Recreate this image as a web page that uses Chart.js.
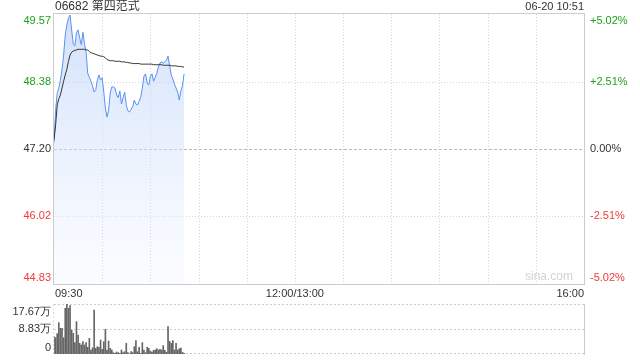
<!DOCTYPE html>
<html>
<head>
<meta charset="utf-8">
<script src="https://cdn.jsdelivr.net/npm/chart.js@4.4.1/dist/chart.umd.min.js"></script>
<style>
body{margin:0;background:#fff;width:640px;height:360px;position:relative;overflow:hidden}
#price{position:absolute;left:0;top:0}
#vol{position:absolute;left:0;top:296px}
</style>
</head>
<body>
<canvas id="price" width="640" height="300"></canvas>
<canvas id="vol" width="640" height="64"></canvas>
<script>
// 06682 intraday, one value per minute from 09:30 to 10:51
const prices=[47.31,47.88,48.18,48.27,48.41,48.59,48.85,49.20,49.38,49.50,49.55,49.29,49.04,49.01,49.25,49.29,49.15,49.03,49.25,49.04,
48.90,48.53,48.46,48.39,48.31,48.20,48.24,48.41,48.50,48.41,48.45,48.20,47.92,47.76,47.88,48.18,48.29,48.29,48.27,48.15,
48.10,48.22,47.99,48.10,48.20,47.97,47.87,47.85,47.90,47.94,48.06,47.99,47.97,48.04,48.11,48.27,48.48,48.52,48.36,48.32,
48.48,48.52,48.39,48.46,48.53,48.64,48.71,48.73,48.71,48.73,48.76,48.83,48.66,48.50,48.43,48.34,48.27,48.20,48.06,48.22,
48.32,48.52]
const avgPrices=[47.36,47.62,47.97,48.08,48.15,48.27,48.39,48.50,48.60,48.74,48.85,48.90,48.92,48.93,48.94,48.95,48.95,48.95,48.95,48.95,
48.94,48.94,48.91,48.89,48.88,48.87,48.86,48.85,48.84,48.83,48.83,48.82,48.80,48.77,48.76,48.75,48.75,48.75,48.74,48.74,
48.74,48.74,48.73,48.73,48.73,48.72,48.72,48.71,48.71,48.70,48.70,48.70,48.70,48.70,48.69,48.69,48.69,48.69,48.69,48.69,
48.69,48.69,48.68,48.68,48.68,48.68,48.68,48.68,48.67,48.67,48.67,48.67,48.67,48.66,48.66,48.66,48.66,48.65,48.65,48.65,
48.64,48.64]
// volume in 万 shares
const volumes=[6.13,5.77,7.2,11.07,9.07,9.07,5.77,16.14,17.67,16.14,17.08,8.48,7.30,4.01,11.43,6.71,3.77,3.18,4.36,3.18,
4.01,2.36,5.54,1.41,2.2,15.55,2.00,2.59,2.36,4.95,1.65,4.36,8.72,1.41,4.59,2.00,1.41,0.47,0.24,0.71,
0.47,0.24,1.41,0.47,0.82,3.77,0.47,0.05,0.82,0.47,2.59,4.71,0.82,2.36,0.24,4.01,1.41,0.47,2.36,2.00,
1.06,0.71,1.30,1.41,1.88,1.41,1.65,1.41,2.95,1.30,0.6,9.66,4.48,3.77,4.71,1.41,3.77,1.41,1.88,2.12,
0.59,0.24]

const prevClose=47.20
const priceTicks=[49.57,48.38,47.20,46.02,44.83]
const pctTicks=['+5.02%','+2.51%','0.00%','-2.51%','-5.02%']
const volTicks=[17.67,8.83,0]
const volTickLabels=['17.67万','8.83万','0']
const timeLabels=['09:30','12:00/13:00','16:00']
const timeTickMinutes=[0,150,330]
const sessionMinutes=330

const FONT='11px "Liberation Sans", Arial, sans-serif'
const GREEN='#1ea31e', RED='#f23a3a', GREY='#333'

function toPoints(arr){return arr.map((v,i)=>({x:i,y:v}))}

function hline(ctx,x1,x2,y,dash,color){
  ctx.save();ctx.beginPath();ctx.setLineDash(dash);ctx.strokeStyle=color;ctx.lineWidth=1
  ctx.moveTo(x1,Math.round(y)+0.5);ctx.lineTo(x2,Math.round(y)+0.5);ctx.stroke();ctx.restore()
}
function vline(ctx,x,y1,y2,dash,color){
  ctx.save();ctx.beginPath();ctx.setLineDash(dash);ctx.strokeStyle=color;ctx.lineWidth=1
  ctx.moveTo(Math.round(x)+0.5,y1);ctx.lineTo(Math.round(x)+0.5,y2);ctx.stroke();ctx.restore()
}
function labelColor(v){return v>prevClose+0.001?GREEN:(v<prevClose-0.001?RED:GREY)}

const priceFrame={
  id:'priceFrame',
  beforeDatasetsDraw(chart){
    const {ctx,chartArea:a,scales:{x,y}}=chart
    for(let t=30;t<sessionMinutes;t+=30){
      vline(ctx,x.getPixelForValue(t),a.top,a.bottom,[1,2],'#d4d4d4')
    }
    priceTicks.forEach(v=>{
      if(v===priceTicks[0]||v===priceTicks[priceTicks.length-1])return
      if(v===prevClose) hline(ctx,a.left,a.right,y.getPixelForValue(v),[3,2],'#b8b8b8')
      else hline(ctx,a.left,a.right,y.getPixelForValue(v),[1,2],'#d4d4d4')
    })
  },
  afterDraw(chart){
    const {ctx,chartArea:a,scales:{x,y}}=chart
    ctx.save()
    ctx.strokeStyle='#cccccc';ctx.lineWidth=1
    ctx.strokeRect(a.left-0.5,a.top-0.5,a.right-a.left+1,a.bottom-a.top+1)
    ctx.font=FONT
    priceTicks.forEach((v,i)=>{
      const py=y.getPixelForValue(v)
      ctx.textBaseline=i===0?'top':(i===priceTicks.length-1?'bottom':'middle')
      const yy=i===0?py+1:(i===priceTicks.length-1?py-1:py)
      ctx.fillStyle=labelColor(v)
      ctx.textAlign='right';ctx.fillText(v.toFixed(2),a.left-3,yy)
      ctx.textAlign='left';ctx.fillText(pctTicks[i],a.right+6,yy)
    })
    ctx.fillStyle=GREY;ctx.textBaseline='middle'
    timeLabels.forEach((s,i)=>{
      const px=x.getPixelForValue(timeTickMinutes[i])
      ctx.textAlign=i===0?'left':(i===timeLabels.length-1?'right':'center')
      ctx.fillText(s,px+(i===0?1:0),a.bottom+10)
    })
    ctx.font='12px "Liberation Sans", "Noto Sans CJK SC", sans-serif'
    ctx.textAlign='left';ctx.fillText('06682 第四范式',a.left+1,7)
    ctx.font=FONT;ctx.textAlign='right';ctx.fillText('06-20 10:51',a.right,7)
    ctx.font='12px "Liberation Sans", Arial, sans-serif';ctx.fillStyle='#d2d2d2'
    ctx.textAlign='right';ctx.textBaseline='bottom';ctx.fillText('sina.com',a.right-11,a.bottom-1)
    ctx.restore()
  }
}

new Chart(document.getElementById('price'),{
  type:'line',
  data:{datasets:[
    {label:'均价',data:toPoints(avgPrices),borderColor:'#333',borderWidth:1,pointRadius:0,fill:false,tension:0},
    {label:'价格',data:toPoints(prices),borderColor:'#5a92ee',borderWidth:1,pointRadius:0,tension:0,fill:'start',
     backgroundColor(c){
       const a=c.chart.chartArea
       if(!a)return 'rgba(200,220,250,0.5)'
       const g=c.chart.ctx.createLinearGradient(0,a.top,0,a.bottom)
       g.addColorStop(0,'rgba(190,212,248,0.72)')
       g.addColorStop(1,'rgba(235,242,255,0.25)')
       return g
     }}
  ]},
  options:{
    responsive:false,animation:false,
    layout:{padding:{left:54,right:56,top:14,bottom:16}},
    scales:{
      x:{type:'linear',display:false,min:0,max:sessionMinutes},
      y:{display:false,min:priceTicks[priceTicks.length-1],max:priceTicks[0]}
    },
    plugins:{legend:{display:false},tooltip:{enabled:false}}
  },
  plugins:[priceFrame]
})

const volFrame={
  id:'volFrame',
  beforeDatasetsDraw(chart){
    const {ctx,chartArea:a,scales:{y}}=chart
    volTicks.forEach(v=>hline(ctx,a.left,a.right,y.getPixelForValue(v)-(v===0?1:0),[2,2],'#cccccc'))
    vline(ctx,a.left-1,a.top,a.bottom,[2,2],'#dddddd')
    vline(ctx,a.right,a.top,a.bottom+1,[],'#cccccc')
  },
  afterDraw(chart){
    const {ctx,chartArea:a,scales:{y}}=chart
    ctx.save();ctx.font=FONT;ctx.fillStyle=GREY;ctx.textAlign='right'
    volTicks.forEach((v,i)=>{
      const py=y.getPixelForValue(v)
      ctx.textBaseline=i===0?'top':(i===volTicks.length-1?'bottom':'middle')
      ctx.fillText(volTickLabels[i],a.left-3,i===0?py+2:(i===volTicks.length-1?py-1:py))
    })
    ctx.restore()
  }
}

new Chart(document.getElementById('vol'),{
  type:'bar',
  data:{datasets:[{label:'成交量',data:toPoints(volumes),backgroundColor:'#666666',barThickness:1}]},
  options:{
    responsive:false,animation:false,
    layout:{padding:{left:54,right:56,top:8,bottom:6}},
    scales:{
      x:{type:'linear',display:false,min:0,max:sessionMinutes,offset:false},
      y:{display:false,min:0,max:volTicks[0]}
    },
    plugins:{legend:{display:false},tooltip:{enabled:false}}
  },
  plugins:[volFrame]
})
</script>
</body>
</html>
